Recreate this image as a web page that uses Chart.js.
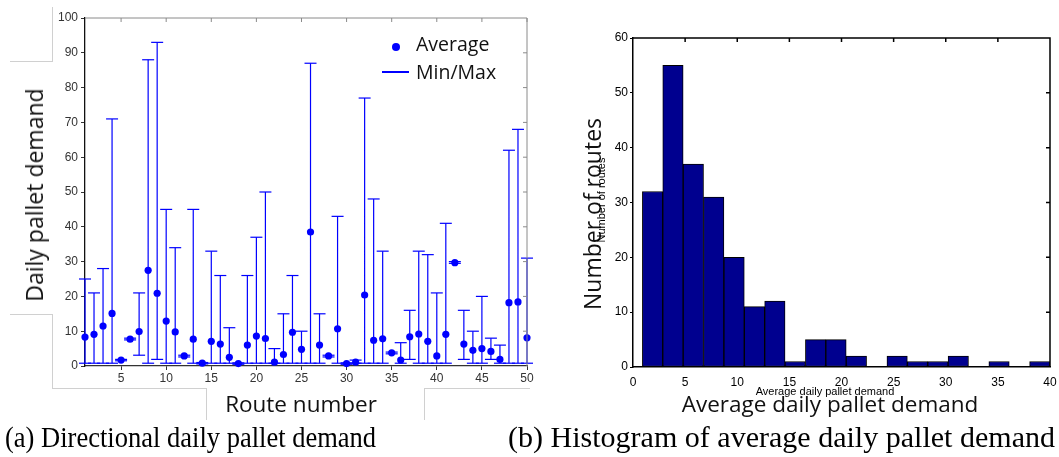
<!DOCTYPE html>
<html>
<head>
<meta charset="utf-8">
<script src="https://cdn.jsdelivr.net/npm/chart.js@4.4.1/dist/chart.umd.min.js"></script>
<style>
  body { margin:0; background:#fff; width:1059px; height:457px; overflow:hidden; position:relative; }
  .box { position:absolute; }
  .lbl { position:absolute; white-space:nowrap; color:#111; }
  .big { font-family:"Open Sans", sans-serif; font-size:22px; }
  .small { font-family:"Liberation Sans", Arial, sans-serif; font-size:11px; color:#000; }
  .cap { font-family:"Liberation Serif", "Times New Roman", serif; font-size:26px; color:#000; transform-origin:0 50%; }
  .gl { position:absolute; background:#d0d0d0; }
</style>
</head>
<body>

<!-- grey text box borders from the original figure -->
<div class="gl" style="left:52px;top:7px;width:1px;height:54px"></div>
<div class="gl" style="left:10px;top:61px;width:43px;height:1px"></div>
<div class="gl" style="left:10px;top:314px;width:43px;height:1px"></div>
<div class="gl" style="left:52px;top:314px;width:1px;height:74px"></div>
<div class="gl" style="left:52px;top:388px;width:155px;height:1px"></div>
<div class="gl" style="left:206px;top:388px;width:1px;height:32px"></div>
<div class="gl" style="left:424px;top:388px;width:1px;height:32px"></div>
<div class="gl" style="left:424px;top:388px;width:106px;height:1px"></div>

<div class="box" style="left:0;top:0;width:540px;height:390px"><canvas id="chartA"></canvas></div>
<div class="box" style="left:540px;top:0;width:519px;height:390px"><canvas id="chartB"></canvas></div>

<!-- legend of left chart -->
<div class="lbl" style="left:392px;top:43px;width:8px;height:8px;border-radius:50%;background:#0000ff"></div>
<div class="lbl" style="left:382px;top:71px;width:27px;height:1.5px;background:#0000ff"></div>
<div class="lbl big" style="left:416px;top:30px;font-size:19.5px">Average</div>
<div class="lbl big" style="left:416px;top:58px;font-size:19.5px">Min/Max</div>

<!-- axis titles -->
<div class="lbl big" style="left:34px;top:195px;font-size:23px;transform:translate(-50%,-50%) rotate(-90deg)">Daily pallet demand</div>
<div class="lbl big" style="left:301px;top:403px;font-size:22.5px;transform:translate(-50%,-50%)">Route number</div>
<div class="lbl big" style="left:592px;top:214px;font-size:23px;transform:translate(-50%,-50%) rotate(-90deg)">Number of routes</div>
<div class="lbl small" style="left:601px;top:200px;transform:translate(-50%,-50%) rotate(-90deg)">Number of routes</div>
<div class="lbl small" style="left:825px;top:391px;transform:translate(-50%,-50%)">Average daily pallet demand</div>
<div class="lbl big" style="left:830px;top:403px;font-size:22.5px;transform:translate(-50%,-50%)">Average daily pallet demand</div>

<!-- captions -->
<div class="lbl cap" style="left:5px;top:423px;transform:scale(1.02,1.12)">(a) Directional daily pallet demand</div>
<div class="lbl cap" style="left:508px;top:423px;transform:scale(1.155,1.12)">(b) Histogram of average daily pallet demand</div>

<script>
// left chart: route demand
var routes = [1,2,3,4,5,6,7,8,9,10,11,12,13,14,15,16,17,18,19,20,21,22,23,24,25,26,27,28,29,30,31,32,33,34,35,36,37,38,39,40,41,42,43,44,45,46,47,48,49,50];
var avgDemand = [8.3,9.1,11.5,15.1,1.7,7.7,9.9,27.5,20.9,12.9,9.8,2.9,7.7,0.8,7.1,6.3,2.5,0.7,6.0,8.6,7.9,1.1,3.3,9.7,4.8,38.5,6.0,2.9,10.7,0.7,1.1,20.4,7.4,7.8,3.8,1.7,8.4,9.2,7.1,2.9,9.1,29.7,6.3,4.5,5.0,4.2,1.9,18.2,18.4,8.1];
var maxDemand = [25,21,28,71,1.9,8,21,88,93,45,34,3.1,45,1,33,26,11,0.9,26,37,50,5,15,26,10,87,15,3.1,43,0.9,1.7,77,48,33,4,6.7,16,33,32,21,41,30,16,10,20,8,6,62,68,31];
var minDemand = [0.8,0.8,0.8,0.8,1.5,7.5,3.1,0.8,1.9,0.8,0.8,2.6,0.8,0.6,0.8,0.8,0.8,0.5,0.8,0.8,0.8,0.8,0.8,0.8,0.8,0.8,0.8,2.6,0.8,0.5,0.8,0.8,0.8,0.8,3.5,0.8,1.9,0.8,0.8,0.8,0.8,29.5,1.9,0.8,0.8,1.9,0.8,0.8,0.8,0.8];
var routeTicks = [5,10,15,20,25,30,35,40,45,50];

// right chart: histogram
var binStart = 0.9;
var binWidth = 1.955;
var routeCounts = [32,55,37,31,20,11,12,1,5,5,2,0,2,1,1,2,0,1,0,1];
var histTicksX = [0,5,10,15,20,25,30,35,40];

var azul = '#0000ff';

// frame + inner ticks on top/right
var framePlugin = {
  id: 'frame',
  afterDraw: function(chart, args, opts) {
    var ctx = chart.ctx, a = chart.chartArea;
    var sx = chart.scales.x, sy = chart.scales.y;
    ctx.save();
    ctx.lineWidth = opts.width;
    ctx.strokeStyle = opts.color;
    ctx.beginPath();
    ctx.moveTo(a.left, a.top); ctx.lineTo(a.right, a.top); ctx.lineTo(a.right, a.bottom);
    ctx.stroke();
    ctx.beginPath();
    opts.topTicks.forEach(function(v){
      var px = sx.getPixelForValue(v);
      ctx.moveTo(px, a.top); ctx.lineTo(px, a.top + 4);
    });
    opts.rightTicks.forEach(function(v){
      var py = sy.getPixelForValue(v);
      ctx.moveTo(a.right, py); ctx.lineTo(a.right - 4, py);
    });
    ctx.stroke();
    ctx.restore();
  }
};

var tickFont = { family: 'Liberation Sans, Arial, sans-serif', size: 12 };

// --- chart (a)
var puntosProm = [], lineas = [], topes = [];
for (var i = 0; i < routes.length; i++) {
  puntosProm.push({ x: routes[i], y: avgDemand[i] });
  lineas.push({ x: routes[i], y: minDemand[i] });
  lineas.push({ x: routes[i], y: maxDemand[i] });
  lineas.push({ x: routes[i], y: null });
  topes.push({ x: routes[i], y: minDemand[i] });
  topes.push({ x: routes[i], y: maxDemand[i] });
}

new Chart(document.getElementById('chartA'), {
  type: 'scatter',
  data: {
    datasets: [
      { label: 'Average', data: puntosProm, backgroundColor: azul, borderColor: azul,
        pointRadius: 3.6, pointBorderWidth: 0, pointHoverRadius: 3.6, clip: false },
      { label: 'Min/Max', type: 'line', data: lineas, showLine: true, spanGaps: false,
        borderColor: azul, borderWidth: 1.2, pointRadius: 0, fill: false, clip: false },
      { label: 'caps', data: topes, pointStyle: 'line', pointRadius: 6, pointBorderWidth: 1.2,
        borderColor: azul, backgroundColor: azul, clip: false }
    ]
  },
  options: {
    responsive: true,
    maintainAspectRatio: false,
    animation: false,
    layout: { padding: { top: 18, right: 13, left: 0, bottom: 0 } },
    plugins: {
      legend: { display: false },
      tooltip: { enabled: false },
      frame: { color: '#8a8a8a', width: 1, topTicks: routeTicks, rightTicks: [10,20,30,40,50,60,70,80,90] }
    },
    scales: {
      x: {
        type: 'linear', min: 1, max: 50,
        afterBuildTicks: function(ax){ ax.ticks = routeTicks.map(function(v){ return { value: v }; }); },
        afterFit: function(ax){ ax.height = 24; },
        grid: { display: true, drawOnChartArea: false, tickLength: 4, color: '#333' },
        border: { color: '#333', width: 1.3 },
        ticks: { font: tickFont, color: '#333', padding: 1, maxRotation: 0 }
      },
      y: {
        min: 0, max: 100,
        afterFit: function(ax){ ax.width = 85; },
        grid: { display: true, drawOnChartArea: false, tickLength: 4, color: '#333' },
        border: { color: '#111', width: 1.3 },
        ticks: { font: tickFont, color: '#333', stepSize: 10, padding: 3 }
      }
    }
  },
  plugins: [framePlugin]
});

// --- chart (b)
var barras = routeCounts.map(function(c, k){
  return { x: binStart + (k + 0.5) * binWidth, y: c };
});

new Chart(document.getElementById('chartB'), {
  type: 'bar',
  data: {
    datasets: [{
      label: 'Number of routes',
      data: barras,
      backgroundColor: '#00008f',
      borderColor: '#000000',
      borderWidth: 1,
      borderSkipped: false,
      barPercentage: 1,
      categoryPercentage: 1
    }]
  },
  options: {
    responsive: true,
    maintainAspectRatio: false,
    animation: false,
    layout: { padding: { top: 38, right: 9, left: 0, bottom: 0 } },
    plugins: {
      legend: { display: false },
      tooltip: { enabled: false },
      frame: { color: '#000', width: 1.5, topTicks: [5,10,15,20,25,30,35], rightTicks: [10,20,30,40,50] }
    },
    scales: {
      x: {
        type: 'linear', min: 0, max: 40, offset: false,
        afterBuildTicks: function(ax){ ax.ticks = histTicksX.map(function(v){ return { value: v }; }); },
        afterFit: function(ax){ ax.height = 23; },
        grid: { display: false, offset: false },
        border: { color: '#000', width: 1.5 },
        ticks: { font: tickFont, color: '#000', padding: 0, maxRotation: 0 }
      },
      y: {
        min: 0, max: 60,
        afterFit: function(ax){ ax.width = 93; },
        grid: { display: true, drawOnChartArea: false, tickLength: 3, color: '#000' },
        border: { color: '#000', width: 1.5 },
        ticks: { font: tickFont, color: '#000', stepSize: 10, padding: 2 }
      }
    }
  },
  plugins: [framePlugin]
});
</script>
</body>
</html>
